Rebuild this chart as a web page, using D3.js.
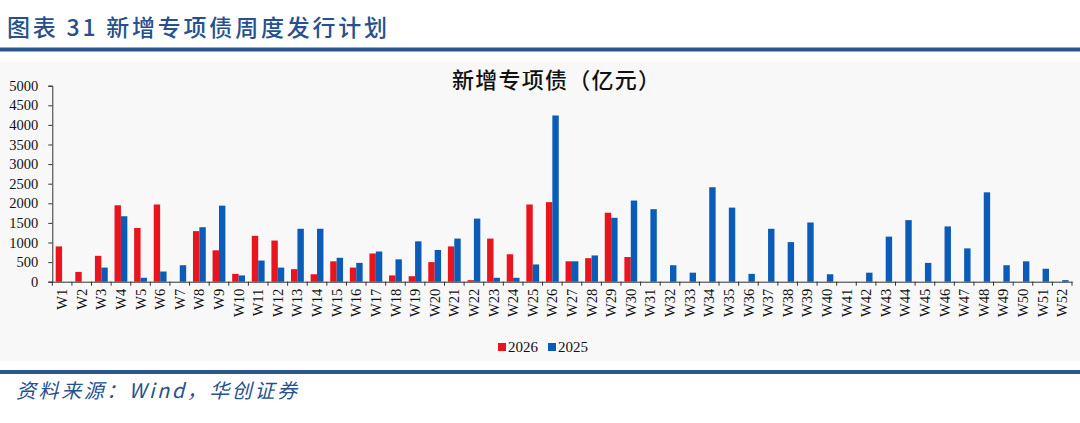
<!DOCTYPE html>
<html>
<head>
<meta charset="utf-8">
<script src="https://cdn.jsdelivr.net/npm/d3@7"></script>
<style>
  body { margin: 0; background: #fff; }
  svg { display: block; }
</style>
</head>
<body>
<svg width="1080" height="423"></svg>
<script>
// weeks W1..W52
const semanas = d3.range(1, 53).map(i => 'W' + i);
const series = ['2026', '2025'];
const cores = ['#e8141e', '#0a5cb8'];

// 新增专项债 (亿元)
const v2026 = [900, 250, 660, 1950, 1370, 1970, null, 1290, 800, 200,
    1170, 1050, 320, 190, 520, 360, 720, 160, 140, 500,
    900, 40, 1100, 700, 1970, 2030, 520, 600, 1760, 630,
    null, null, null, null, null, null, null, null, null, null,
    null, null, null, null, null, null, null, null, null, null, null, null];
const v2025 = [null, null, 360, 1670, 100, 260, 420, 1390, 1940, 160,
    540, 360, 1350, 1350, 610, 480, 770, 570, 1030, 810,
    1100, 1610, 100, 100, 440, 4240, 520, 670, 1630, 2070,
    1850, 420, 230, 2410, 1890, 200, 1350, 1010, 1510, 190,
    null, 230, 1150, 1570, 480, 1410, 850, 2280, 420, 520, 330, 40];
const yTicks = d3.range(0, 5001, 500);

const svg = d3.select('svg');
const largura = +svg.attr('width');
const altura = +svg.attr('height');

const azul = '#26518e';
const serif = '"Liberation Serif", "Times New Roman", serif';
const cjk = '"Noto Sans CJK SC", sans-serif';

// header
svg.append('text')
    .attr('x', 7).attr('y', 36)
    .attr('font-family', cjk).attr('font-size', 23).attr('font-weight', 500)
    .attr('fill', azul)
    .attr('textLength', 380).attr('lengthAdjust', 'spacing')
    .text('图表 31 新增专项债周度发行计划');
svg.append('rect').attr('x', 0).attr('y', 47.5).attr('width', largura).attr('height', 4).attr('fill', '#2b5791');

// chart area background
svg.append('rect').attr('x', 0).attr('y', 62).attr('width', largura).attr('height', 299).attr('fill', '#f8f8f8');

// footer
svg.append('rect').attr('x', 0).attr('y', 370).attr('width', largura).attr('height', 4).attr('fill', '#2b5791');
svg.append('text')
    .attr('x', 16).attr('y', 398)
    .attr('font-family', cjk).attr('font-size', 20).attr('font-style', 'italic')
    .attr('fill', azul)
    .attr('textLength', 281).attr('lengthAdjust', 'spacing')
    .text('资料来源：Wind，华创证券');

// chart title
svg.append('text')
    .attr('x', 556).attr('y', 88)
    .attr('text-anchor', 'middle')
    .attr('font-family', cjk).attr('font-size', 22).attr('font-weight', 500)
    .attr('fill', '#111')
    .attr('textLength', 208).attr('lengthAdjust', 'spacing')
    .text('新增专项债（亿元）');

const marg = { cima: 85.7, direita: 8, baixo: 141.3, esquerda: 52.3 };
const innerLargura = largura - marg.esquerda - marg.direita;
const innerAltura = altura - marg.cima - marg.baixo;

const g = svg.append('g')
    .attr('transform', `translate(${marg.esquerda},${marg.cima})`);

const x0 = d3.scaleBand()
    .domain(semanas)
    .range([0, innerLargura])
    .padding(0);

const x1 = d3.scaleBand()
    .domain(series)
    .range([0, x0.bandwidth()])
    .paddingInner(0)
    .paddingOuter(0.53);

const y = d3.scaleLinear()
    .domain([0, 5000])
    .range([innerAltura, 0]);

// y axis
const yAxis = g.append('g')
    .call(d3.axisLeft(y).tickValues(yTicks).tickSize(4).tickPadding(10).tickFormat(d => d));
yAxis.select('.domain').attr('stroke', '#333');
yAxis.selectAll('line').attr('stroke', '#333');
yAxis.selectAll('text').attr('font-family', serif).attr('font-size', 14.5).attr('fill', '#111');

// bars
const dados = [v2026, v2025];
series.forEach((s, k) => {
    g.append('g').selectAll('rect')
        .data(semanas.map((w, i) => ({ w, v: dados[k][i] })).filter(d => d.v != null))
        .enter().append('rect')
            .attr('x', d => x0(d.w) + x1(s))
            .attr('y', d => y(d.v))
            .attr('width', x1.bandwidth())
            .attr('height', d => innerAltura - y(d.v))
            .attr('fill', cores[k]);
});

// x axis
const xAxis = g.append('g')
    .attr('transform', `translate(0,${innerAltura})`)
    .call(d3.axisBottom(x0).tickSize(0));
xAxis.select('.domain').attr('stroke', '#333');
xAxis.selectAll('text')
    .attr('transform', 'rotate(-90)')
    .attr('x', -7).attr('y', 0).attr('dy', '0.35em')
    .style('text-anchor', 'end')
    .attr('font-family', serif).attr('font-size', 14.5).attr('fill', '#111');

// boundary ticks between categories
xAxis.selectAll('.fronteira')
    .data(semanas.map(w => x0(w)).concat([innerLargura]))
    .enter().append('line')
        .attr('class', 'fronteira')
        .attr('x1', d => d).attr('x2', d => d)
        .attr('y1', 0).attr('y2', 4)
        .attr('stroke', '#333');

// legend
const leg = svg.append('g').attr('transform', 'translate(498,343)');
series.forEach((s, k) => {
    const item = leg.append('g').attr('transform', `translate(${k * 50},0)`);
    item.append('rect').attr('width', 8).attr('height', 8).attr('fill', cores[k]);
    item.append('text')
        .attr('x', 10).attr('y', 8.5)
        .attr('font-family', serif).attr('font-size', 15).attr('fill', '#111')
        .text(s);
});
</script>
</body>
</html>
